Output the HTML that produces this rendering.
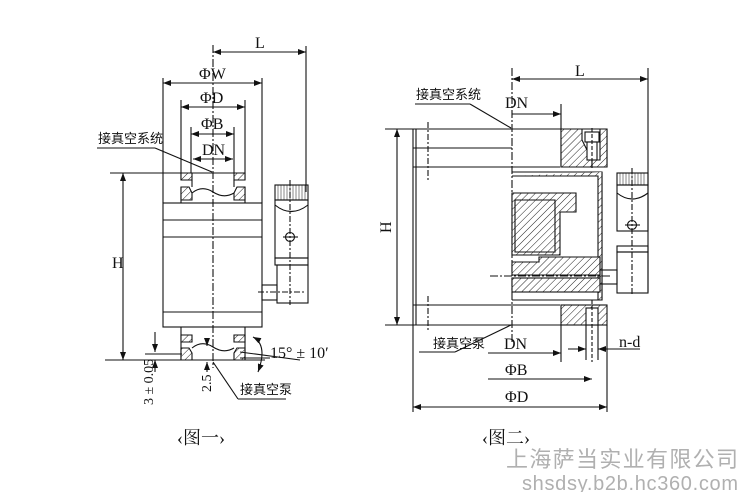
<!DOCTYPE html>
<html><head><meta charset="utf-8"><style>
html,body{margin:0;padding:0;background:#fff;}
svg{display:block}
text{font-family:"Liberation Serif","Noto Serif CJK SC",serif;fill:#111}
.cn{font-family:"Liberation Sans","Noto Sans CJK SC",sans-serif;font-size:13px}
</style></head><body>
<svg width="744" height="492" viewBox="0 0 744 492" xmlns="http://www.w3.org/2000/svg">
<defs>
<pattern id="h" width="5" height="5" patternUnits="userSpaceOnUse" patternTransform="rotate(45)">
<rect width="5" height="5" fill="#fff"/><line x1="0" y1="0" x2="0" y2="5" stroke="#222" stroke-width="1"/></pattern>
<marker id="a" markerWidth="8" markerHeight="6" refX="8" refY="3" orient="auto-start-reverse" markerUnits="userSpaceOnUse">
<path d="M0,0 L8,3 L0,6 z" fill="#111"/></marker>
</defs>
<g stroke="#111" stroke-width="1.1" fill="none">
<!-- FIGURE 1 -->
<line x1="213" y1="45" x2="213" y2="368" stroke-dasharray="8,2,2,2"/>
<line x1="306" y1="46" x2="306" y2="192"/>
<line x1="213" y1="52" x2="306" y2="52" marker-start="url(#a)" marker-end="url(#a)"/>
<line x1="163" y1="78" x2="163" y2="203"/><line x1="262" y1="78" x2="262" y2="203"/>
<line x1="163" y1="83" x2="262" y2="83" marker-start="url(#a)" marker-end="url(#a)"/>
<line x1="181" y1="100" x2="181" y2="173"/><line x1="245" y1="100" x2="245" y2="173"/>
<line x1="181" y1="107" x2="245" y2="107" marker-start="url(#a)" marker-end="url(#a)"/>
<line x1="191" y1="127" x2="191" y2="173"/><line x1="234" y1="127" x2="234" y2="173"/>
<line x1="191" y1="134" x2="234" y2="134" marker-start="url(#a)" marker-end="url(#a)"/>
<line x1="193" y1="159" x2="233" y2="159" marker-start="url(#a)" marker-end="url(#a)"/>
<!-- top flange -->
<path d="M181,173 H245 M181,173 V180 M245,173 V180 M181,187 V203 H245 V187"/>
<path d="M181,173 H192 V180 H181 Z" fill="url(#h)"/>
<path d="M234,173 H245 V180 H234 Z" fill="url(#h)"/>
<path d="M181,187 H189 L192,193 V200 H181 Z" fill="url(#h)"/>
<path d="M245,187 H237 L234,193 V200 H245 Z" fill="url(#h)"/>
<path d="M192,193 Q202,185 213,192 Q224,199 234,193"/>
<path d="M192,180 V187 M234,180 V187"/>
<!-- body -->
<rect x="163" y="203" width="99" height="124"/>
<line x1="163" y1="220" x2="262" y2="220"/><line x1="163" y1="237" x2="262" y2="237"/>
<line x1="163" y1="312" x2="262" y2="312"/>
<!-- bottom flange -->
<path d="M181,327 V360 H245 V327"/>
<path d="M181,335 H192 V342 H181 Z" fill="url(#h)"/>
<path d="M234,335 H245 V342 H234 Z" fill="url(#h)"/>
<path d="M181,348 H189 L192,353 V360 H181 Z" fill="url(#h)"/>
<path d="M245,348 H237 L234,353 V360 H245 Z" fill="url(#h)"/>
<path d="M192,348 Q202,340 213,347 Q224,354 234,348"/>
<!-- H -->
<line x1="110" y1="173" x2="190" y2="173"/>
<line x1="105" y1="360" x2="265" y2="360"/>
<line x1="123" y1="173" x2="123" y2="360" marker-start="url(#a)" marker-end="url(#a)"/>
<!-- valve -->
<rect x="275" y="185" width="33" height="15"/>
<path d="M278,185v15M281,185v15M284,185v15M287,185v15M290,185v15M293,185v15M296,185v15M299,185v15M302,185v15M305,185v15" stroke-width="0.5"/>
<rect x="275" y="200" width="33" height="58"/>
<path d="M275,205 Q291,218 308,205"/>
<circle cx="290" cy="237" r="4.5"/><line x1="283" y1="237" x2="298" y2="237"/>
<rect x="275" y="258" width="33" height="7"/>
<rect x="277" y="265" width="31" height="38"/>
<rect x="262" y="285" width="15" height="15"/>
<line x1="290" y1="180" x2="290" y2="305" stroke-dasharray="6,2,2,2"/>
<line x1="258" y1="292" x2="305" y2="292" stroke-dasharray="6,2,2,2"/>
<!-- leaders -->
<line x1="97" y1="148" x2="155" y2="148"/><line x1="155" y1="148" x2="212" y2="172"/>
<line x1="213" y1="362" x2="238" y2="399"/><line x1="238" y1="399" x2="286" y2="399"/>
<!-- 3±0.05 / 2.5 -->
<line x1="155" y1="332" x2="155" y2="352" marker-end="url(#a)"/>
<line x1="155" y1="372" x2="155" y2="360" marker-end="url(#a)"/>
<line x1="145" y1="354" x2="182" y2="354"/>
<line x1="207" y1="340" x2="207" y2="346" marker-end="url(#a)"/>
<line x1="207" y1="372" x2="207" y2="362" marker-end="url(#a)"/>
<!-- 15 deg -->
<line x1="240" y1="352" x2="300" y2="360"/><line x1="240" y1="358" x2="270" y2="358"/>
<path d="M253,337 Q268,345 258,372" marker-start="url(#a)" marker-end="url(#a)"/>

<!-- FIGURE 2 -->
<line x1="512" y1="68" x2="512" y2="342" stroke-dasharray="8,2,2,2"/>
<line x1="648" y1="68" x2="648" y2="292"/>
<line x1="512" y1="79" x2="648" y2="79" marker-start="url(#a)" marker-end="url(#a)"/>
<line x1="561" y1="104" x2="561" y2="129"/>
<line x1="512" y1="114" x2="561" y2="114" marker-end="url(#a)"/>
<line x1="415" y1="104" x2="470" y2="104"/><line x1="470" y1="104" x2="511" y2="128"/>
<!-- left body -->
<path d="M512,129 H413 V325 H512"/>
<line x1="416" y1="129" x2="416" y2="325"/>
<line x1="413" y1="148" x2="512" y2="148"/><line x1="413" y1="167" x2="560" y2="167"/>
<line x1="413" y1="305" x2="560" y2="305"/>
<line x1="428" y1="122" x2="428" y2="182" stroke-dasharray="6,2,2,2"/>
<line x1="428" y1="296" x2="428" y2="332" stroke-dasharray="6,2,2,2"/>
<line x1="385" y1="129" x2="561" y2="129"/><line x1="385" y1="325" x2="607" y2="325"/>
<line x1="397" y1="129" x2="397" y2="325" marker-start="url(#a)" marker-end="url(#a)"/>
<!-- upper flange -->
<path d="M561,129 H607 V167 H561 Z"/>
<path d="M561,129 H582 V140 L592,160 V167 H561 Z" fill="url(#h)"/>
<path d="M600,129 H607 V167 H592 V160 H600 Z" fill="url(#h)"/>
<rect x="585" y="132" width="14" height="10" fill="#fff"/>
<rect x="587" y="142" width="10" height="18" fill="#fff"/>
<line x1="592" y1="128" x2="592" y2="170" stroke-dasharray="4,2"/>
<!-- C frame -->
<path d="M512,172 H602 V300 H512" />
<path d="M602,172 V300 H598 V176 H512" fill="url(#h)"/>
<!-- inner T block -->
<path d="M512,193 H576 V212 H560 V255 H512 Z" fill="url(#h)"/>
<path d="M515,200 H555 V252 H515 Z" fill="url(#h)"/>
<path d="M539,257 H600 V275 H512 V262 H539Z" fill="url(#h)"/>
<rect x="512" y="278" width="88" height="14" fill="url(#h)"/>
<line x1="490" y1="276" x2="610" y2="276" stroke-dasharray="8,2,2,2"/>
<!-- lower flange -->
<rect x="561" y="305" width="46" height="20" fill="url(#h)"/>
<rect x="586" y="308" width="12" height="17" fill="#fff"/>
<line x1="592" y1="300" x2="592" y2="362" stroke-dasharray="4,2"/>
<!-- valve -->
<rect x="617" y="173" width="31" height="12"/>
<path d="M620,173v12M623,173v12M626,173v12M629,173v12M632,173v12M635,173v12M638,173v12M641,173v12M644,173v12" stroke-width="0.5"/>
<rect x="617" y="185" width="31" height="46"/>
<path d="M617,193 Q632,205 648,193"/>
<circle cx="632" cy="225" r="4.5"/><line x1="625" y1="225" x2="640" y2="225"/>
<rect x="617" y="246" width="31" height="6"/>
<rect x="617" y="252" width="31" height="41"/>
<rect x="600" y="270" width="17" height="14"/>
<line x1="632" y1="168" x2="632" y2="296" stroke-dasharray="6,2,2,2"/>
<!-- bottom dims -->
<line x1="419" y1="352" x2="455" y2="352"/><line x1="455" y1="352" x2="511" y2="325"/>
<line x1="561" y1="325" x2="561" y2="362"/>
<line x1="488" y1="353" x2="561" y2="353" marker-end="url(#a)"/>
<line x1="488" y1="379" x2="592" y2="379" marker-end="url(#a)"/>
<line x1="413" y1="325" x2="413" y2="412"/><line x1="607" y1="325" x2="607" y2="412"/>
<line x1="413" y1="407" x2="607" y2="407" marker-start="url(#a)" marker-end="url(#a)"/>
<line x1="586" y1="325" x2="586" y2="360"/><line x1="598" y1="325" x2="598" y2="360"/>
<line x1="568" y1="349" x2="586" y2="349" marker-end="url(#a)"/>
<line x1="640" y1="349" x2="598" y2="349" marker-end="url(#a)"/>
</g>
<g font-size="16">
<text x="255" y="48">L</text>
<text x="199" y="79">ΦW</text>
<text x="200" y="103">ΦD</text>
<text x="201" y="129">ΦB</text>
<text x="202" y="155">DN</text>
<text x="112" y="268">H</text>
<text x="270" y="358">15° ± 10′</text>
<text transform="translate(153,405) rotate(-90)" font-size="14">3 ± 0.05</text>
<text transform="translate(211,392) rotate(-90)" font-size="14">2.5</text>
<text x="177" y="444" font-size="18">‹图一›</text>
<text x="575" y="76">L</text>
<text x="505" y="108">DN</text>
<text x="504" y="349">DN</text>
<text x="505" y="375">ΦB</text>
<text x="505" y="402">ΦD</text>
<text x="619" y="347">n-d</text>
<text x="482" y="444" font-size="18">‹图二›</text>
</g>
<text x="382" y="232" font-size="16" transform="rotate(-90 387 228)">H</text>
<text class="cn" x="98" y="143">接真空系统</text>
<text class="cn" x="240" y="394">接真空泵</text>
<text class="cn" x="416" y="99">接真空系统</text>
<text class="cn" x="433" y="348">接真空泵</text>
<text x="506" y="467" font-size="22" style="fill:#b0b0b0;font-family:'Liberation Sans','Noto Sans CJK SC',sans-serif" textLength="232">上海萨当实业有限公司</text>
<text x="522" y="490" font-size="20" style="fill:#b0b0b0;font-family:'Liberation Sans',sans-serif" textLength="216">shsdsy.b2b.hc360.com</text>
</svg>
</body></html>
